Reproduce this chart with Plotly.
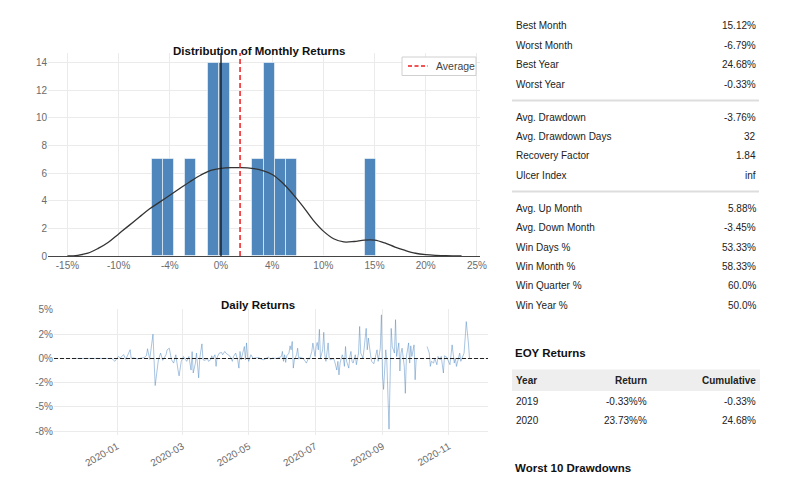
import plotly.graph_objects as go

# ---------------- data ----------------
# Monthly returns histogram (percent)
hist_bin_start = -6.79
hist_bin_size = 1.0955
hist_heights = [7, 7, 0, 7, 0, 14, 14, 0, 0, 7, 14, 7, 7, 0, 0, 0, 0, 0, 0, 7]
avg_monthly = 1.86

kde_x = [-15, -14, -13, -12, -11, -10, -9, -8, -7, -6, -5, -4, -3, -2, -1, 0, 1, 2, 3, 4,
         5, 6, 7, 8, 9, 10, 11, 12, 13, 14, 15, 16, 17, 18, 19, 20, 21, 22, 23.5]
kde_y = [0.0, 0.05, 0.2, 0.55, 1.0, 1.6, 2.2, 2.8, 3.4, 3.9, 4.4, 4.9, 5.4, 5.85, 6.2, 6.35, 6.4, 6.4, 6.35, 6.2,
         5.9, 5.3, 4.5, 3.6, 2.6, 1.8, 1.25, 1.02, 1.05, 1.15, 1.15, 0.95, 0.65, 0.4, 0.2, 0.1, 0.05, 0.02, 0.0]

hist_tickvals = [-15, -10, -5, 0, 5, 10, 15, 20, 25]
hist_ticktext = ["-15%", "-10%", "-4%", "0%", "4%", "10%", "15%", "20%", "25%"]
legend_label = "Average"

# Daily returns (percent)
daily_dates = [
    "2019-11-22", "2019-12-27", "2019-12-30", "2020-01-02", "2020-01-04", "2020-01-06", "2020-01-07",
    "2020-01-09", "2020-01-10", "2020-01-13", "2020-01-14", "2020-01-16", "2020-01-20", "2020-01-23",
    "2020-01-26", "2020-01-28", "2020-01-29", "2020-01-31", "2020-02-03", "2020-02-05", "2020-02-08",
    "2020-02-10", "2020-02-12", "2020-02-15", "2020-02-16", "2020-02-18", "2020-02-20", "2020-02-22",
    "2020-02-24", "2020-02-26", "2020-02-27", "2020-02-29", "2020-03-02", "2020-03-04", "2020-03-05",
    "2020-03-07", "2020-03-09", "2020-03-10", "2020-03-11", "2020-03-13", "2020-03-14", "2020-03-16",
    "2020-03-17", "2020-03-19", "2020-03-20", "2020-03-22", "2020-03-24", "2020-03-25", "2020-03-27",
    "2020-03-28", "2020-03-29", "2020-03-31", "2020-04-01", "2020-04-02", "2020-04-04", "2020-04-06",
    "2020-04-07", "2020-04-09", "2020-04-10", "2020-04-12", "2020-04-14", "2020-04-16", "2020-04-17",
    "2020-04-19", "2020-04-21", "2020-04-22", "2020-04-23", "2020-04-24", "2020-04-25", "2020-04-27",
    "2020-04-28", "2020-04-29", "2020-04-30", "2020-05-01", "2020-05-03", "2020-05-05", "2020-05-10",
    "2020-05-13", "2020-05-15", "2020-05-17", "2020-05-19", "2020-05-21", "2020-05-23", "2020-05-27",
    "2020-05-31", "2020-06-01", "2020-06-02", "2020-06-03", "2020-06-04", "2020-06-05", "2020-06-07",
    "2020-06-08", "2020-06-09", "2020-06-10", "2020-06-11", "2020-06-12", "2020-06-14", "2020-06-15",
    "2020-06-16", "2020-06-17", "2020-06-20", "2020-06-22", "2020-06-23", "2020-06-25", "2020-06-26",
    "2020-06-28", "2020-06-29", "2020-06-30", "2020-07-01", "2020-07-02", "2020-07-03", "2020-07-04",
    "2020-07-05", "2020-07-06", "2020-07-08", "2020-07-09", "2020-07-10", "2020-07-11", "2020-07-13",
    "2020-07-14", "2020-07-15", "2020-07-18", "2020-07-19", "2020-07-21", "2020-07-22", "2020-07-23",
    "2020-07-24", "2020-07-26", "2020-07-27", "2020-07-28", "2020-07-29", "2020-07-30", "2020-08-01",
    "2020-08-02", "2020-08-03", "2020-08-04", "2020-08-05", "2020-08-07", "2020-08-08", "2020-08-10",
    "2020-08-11", "2020-08-12", "2020-08-14", "2020-08-15", "2020-08-17", "2020-08-18", "2020-08-19",
    "2020-08-21", "2020-08-22", "2020-08-24", "2020-08-25", "2020-08-27", "2020-08-28", "2020-08-30",
    "2020-08-31", "2020-09-01", "2020-09-02", "2020-09-04", "2020-09-05", "2020-09-06", "2020-09-07",
    "2020-09-09", "2020-09-10", "2020-09-12", "2020-09-13", "2020-09-14", "2020-09-16", "2020-09-17",
    "2020-09-18", "2020-09-19", "2020-09-21", "2020-09-22", "2020-09-23", "2020-09-25", "2020-09-26",
    "2020-09-27", "2020-09-28", "2020-09-30", "2020-10-01", "2020-10-02", "2020-10-07", "2020-10-12",
    "2020-10-14", "2020-10-15", "2020-10-16", "2020-10-18", "2020-10-19", "2020-10-21", "2020-10-22",
    "2020-10-24", "2020-10-25", "2020-10-27", "2020-10-28", "2020-10-30", "2020-10-31", "2020-11-02",
    "2020-11-03", "2020-11-04", "2020-11-06", "2020-11-07", "2020-11-08", "2020-11-10", "2020-11-11",
    "2020-11-12", "2020-11-13", "2020-11-15", "2020-11-16", "2020-11-17", "2020-11-19", "2020-11-20",
]
daily_returns = [
    0.0, 0.0, -0.3, 0.2, 0.05, 0.25, 0.4,
    -0.1, 0.2, 0.9, 0.0, 0.05, -0.05, 0.05,
    0.1, 0.3, 1.0, -0.1, 2.5, -2.8, -0.14,
    0.55, -0.2, 0.38, 0.89, 1.06, -0.14, -0.48,
    0.38, -1.2, -1.8, -0.3, 0.2, -0.14, -0.3,
    0.2, -1.2, 0.7, -1.5, -0.48, 0.55, -2.0,
    0.03, 1.5, -0.14, -0.2, 0.03, -0.3, -0.14,
    0.27, -0.03, 0.38, -0.82, 0.14, 0.55, 0.62,
    0.38, 0.72, 0.55, 0.38, 0.2, -0.3, 0.2,
    0.55, -0.24, -1.0, 0.72, -0.14, 0.38, 1.23,
    -0.14, 1.6, 0.14, -0.3, 0.38, 0.0, 0.1,
    -0.1, -0.14, 0.03, 0.14, -0.07, 0.03, 0.0,
    0.2, 0.72, -0.3, 0.38, -0.41, 0.27, 0.55,
    1.3, 0.89, 1.75, -1.0, -0.14, 0.38, 1.06,
    -0.07, 0.14, 0.0, -0.3, -0.48, 0.03, -0.07,
    0.72, 1.58, 0.89, 0.2, 1.23, 1.65, 0.89,
    3.0, 0.03, 0.89, 2.7, 0.38, -0.3, 1.6,
    0.03, -0.14, 0.0, -0.3, -1.2, -0.3, -1.7,
    -0.48, 0.38, 0.03, -0.82, 1.23, -0.3, -1.0,
    0.2, 0.72, -0.3, -0.48, 0.38, -0.65, 0.55,
    3.3, 0.55, 0.03, 0.89, 3.1, 0.89, 2.1,
    0.38, -0.3, -0.55, -0.14, 0.89, -0.3, 1.06,
    4.5, -1.7, -3.2, 0.89, -0.3, -3.4, -7.3,
    3.1, 1.23, 0.55, 4.0, 0.2, 1.6, -1.3,
    0.55, 1.06, -0.82, -3.6, 0.2, 1.6, -0.48,
    1.3, 0.2, 1.4, -2.2, 0.0, None, 1.23,
    0.55, -0.82, -0.3, -0.48, 0.03, -0.65, 0.2,
    -0.14, 0.2, -1.5, 0.27, 0.14, -0.14, -0.65,
    0.38, 1.4, -0.48, 0.03, -0.82, 0.2, 0.55,
    -0.3, 0.03, 0.55, 2.1, 3.8, 1.6, 0.0,
]
daily_tickvals = ["2020-01-01", "2020-03-01", "2020-05-01", "2020-07-01", "2020-09-01", "2020-11-01"]
daily_y_tickvals = [5, 2.5, 0, -2.5, -5, -7.5]
daily_y_ticktext = ["5%", "2%", "0%", "-2%", "-5%", "-8%"]

# Key metrics
metric_groups = [
    [("Best Month", "15.12%"), ("Worst Month", "-6.79%"), ("Best Year", "24.68%"), ("Worst Year", "-0.33%")],
    [("Avg. Drawdown", "-3.76%"), ("Avg. Drawdown Days", "32"), ("Recovery Factor", "1.84"), ("Ulcer Index", "inf")],
    [("Avg. Up Month", "5.88%"), ("Avg. Down Month", "-3.45%"), ("Win Days %", "53.33%"),
     ("Win Month %", "58.33%"), ("Win Quarter %", "60.0%"), ("Win Year %", "50.0%")],
]
eoy_header = ["Year", "Return", "Cumulative"]
eoy_years = ["2019", "2020"]
eoy_returns = ["-0.33%%", "23.73%%"]
eoy_cumulative = ["-0.33%", "24.68%"]

# ---------------- figure ----------------
W, H = 800, 502
FONT = "Liberation Sans, Arial, sans-serif"
GRID = "#ebebeb"
TICK = "#6b6b6b"

def px(x):
    return x / W

def py(y):
    return 1 - y / H

fig = go.Figure()

bin_centers = [hist_bin_start + hist_bin_size * (i + 0.5) for i in range(len(hist_heights))]
fig.add_trace(go.Bar(
    x=bin_centers, y=hist_heights, width=hist_bin_size,
    marker=dict(color="#4f87bd", line=dict(color="rgba(255,255,255,0.55)", width=1)),
    showlegend=False, xaxis="x", yaxis="y", hoverinfo="skip"))
fig.add_trace(go.Scatter(
    x=kde_x, y=kde_y, mode="lines", line=dict(color="#333333", width=1.3, shape="spline"),
    showlegend=False, xaxis="x", yaxis="y"))
fig.add_trace(go.Scatter(
    x=[avg_monthly, avg_monthly], y=[0, 14.7], mode="lines", name=legend_label,
    line=dict(color="#ee1c1c", width=1.5, dash="5px,3px"), xaxis="x", yaxis="y", showlegend=False))

fig.add_trace(go.Scatter(
    x=daily_dates, y=daily_returns, mode="lines", connectgaps=False,
    line=dict(color="rgba(70,130,190,0.55)", width=0.85),
    showlegend=False, xaxis="x2", yaxis="y2"))

shapes = [
    dict(type="line", xref="x", yref="y domain", x0=0, x1=0, y0=0, y1=1,
         line=dict(color="#111111", width=1.3)),
    dict(type="line", xref="x2 domain", yref="y2", x0=0, x1=1, y0=0, y1=0,
         line=dict(color="#222222", width=1.1, dash="4px,2px")),
    # legend box
    dict(type="rect", xref="paper", yref="paper", x0=px(402), x1=px(476), y0=py(75.5), y1=py(57),
         fillcolor="white", line=dict(color="#d0d0d0", width=1)),
    dict(type="line", xref="paper", yref="paper", x0=px(408), x1=px(428), y0=py(66), y1=py(66),
         line=dict(color="#ee1c1c", width=1.5, dash="4px,2.5px")),
]

annotations = [
    dict(text="<b>Distribution of Monthly Returns</b>", x=px(259), y=py(51), xref="paper", yref="paper",
         showarrow=False, font=dict(family=FONT, size=11.5, color="#111"), xanchor="center", yanchor="middle"),
    dict(text="<b>Daily Returns</b>", x=px(258), y=py(305), xref="paper", yref="paper",
         showarrow=False, font=dict(family=FONT, size=11.5, color="#111"), xanchor="center", yanchor="middle"),
    dict(text=legend_label, x=px(434), y=py(66), xref="paper", yref="paper", showarrow=False,
         xanchor="left", yanchor="middle", font=dict(family=FONT, size=10.5, color="#444")),
]

# right-hand metrics
LX, RX = 514, 758
group_tops = [26, 117.3, 208.3]
step = 19.35
sep_ys = [100.5, 191.5]
for g, rows in enumerate(metric_groups):
    for i, (lab, val) in enumerate(rows):
        yy = group_tops[g] + i * step
        annotations.append(dict(text=lab, x=px(LX), y=py(yy), xref="paper", yref="paper", showarrow=False,
                                xanchor="left", yanchor="middle", font=dict(family=FONT, size=10, color="#222")))
        annotations.append(dict(text=val, x=px(RX), y=py(yy), xref="paper", yref="paper", showarrow=False,
                                xanchor="right", yanchor="middle", font=dict(family=FONT, size=10, color="#222")))
for sy in sep_ys:
    shapes.append(dict(type="line", xref="paper", yref="paper", x0=px(512), x1=px(759), y0=py(sy), y1=py(sy),
                       line=dict(color="#dddddd", width=2)))

annotations.append(dict(text="<b>EOY Returns</b>", x=px(513), y=py(353), xref="paper", yref="paper",
                        showarrow=False, xanchor="left", yanchor="middle",
                        font=dict(family=FONT, size=11.5, color="#111")))
shapes.append(dict(type="rect", xref="paper", yref="paper", x0=px(512), x1=px(760), y0=py(391), y1=py(369.5),
                   fillcolor="#eeeeee", line=dict(width=0), layer="below"))
col_x = [(514, "left"), (648.5, "right"), (758, "right")]
for (cx, anc), h in zip(col_x, eoy_header):
    annotations.append(dict(text="<b>" + h + "</b>", x=px(cx), y=py(380.5), xref="paper", yref="paper",
                            showarrow=False, xanchor=anc, yanchor="middle",
                            font=dict(family=FONT, size=10, color="#222")))
for r, (yr, ret, cum) in enumerate(zip(eoy_years, eoy_returns, eoy_cumulative)):
    yy = 401 + r * 19.4
    for (cx, anc), t in zip(col_x, [yr, ret, cum]):
        annotations.append(dict(text=t, x=px(cx), y=py(yy), xref="paper", yref="paper", showarrow=False,
                                xanchor=anc, yanchor="middle", font=dict(family=FONT, size=10, color="#222")))
annotations.append(dict(text="<b>Worst 10 Drawdowns</b>", x=px(513), y=py(468), xref="paper", yref="paper",
                        showarrow=False, xanchor="left", yanchor="middle",
                        font=dict(family=FONT, size=11.5, color="#111")))

tickfont = dict(family=FONT, size=10, color=TICK)
fig.update_layout(
    template="none",
    width=W, height=H, margin=dict(l=0, r=0, t=0, b=0, pad=0, autoexpand=False),
    paper_bgcolor="white", plot_bgcolor="white",
    font=dict(family=FONT),
    bargap=0, showlegend=False,
    xaxis=dict(domain=[px(48), px(480)], range=[-16.9, 25.3], tickvals=hist_tickvals, ticktext=hist_ticktext,
               showgrid=True, gridcolor=GRID, gridwidth=1, zeroline=False, showline=True, linecolor="#444",
               linewidth=1.2, tickfont=tickfont, ticks="", anchor="y", automargin=False),
    yaxis=dict(domain=[py(256), py(53)], range=[0, 14.7], tickvals=[0, 2, 4, 6, 8, 10, 12, 14],
               showgrid=True, gridcolor=GRID, gridwidth=1, zeroline=False, showline=False, tickfont=tickfont,
               ticks="", anchor="x", automargin=False),
    xaxis2=dict(domain=[px(54), px(488)], type="date", range=["2019-11-04", "2020-12-07"],
                tickvals=daily_tickvals, tickformat="%Y-%m", tickangle=-30, showgrid=True, gridcolor=GRID,
                gridwidth=1, zeroline=False, showline=False, tickfont=tickfont, ticks="", anchor="y2",
                automargin=False, ticklabelstandoff=3),
    yaxis2=dict(domain=[py(435), py(309)], range=[-7.9, 5.1], tickvals=daily_y_tickvals,
                ticktext=daily_y_ticktext, showgrid=True, gridcolor=GRID, gridwidth=1, zeroline=False,
                showline=False, tickfont=tickfont, ticks="", anchor="x2", automargin=False),
    shapes=shapes, annotations=annotations,
)

fig.write_html("out.html")
